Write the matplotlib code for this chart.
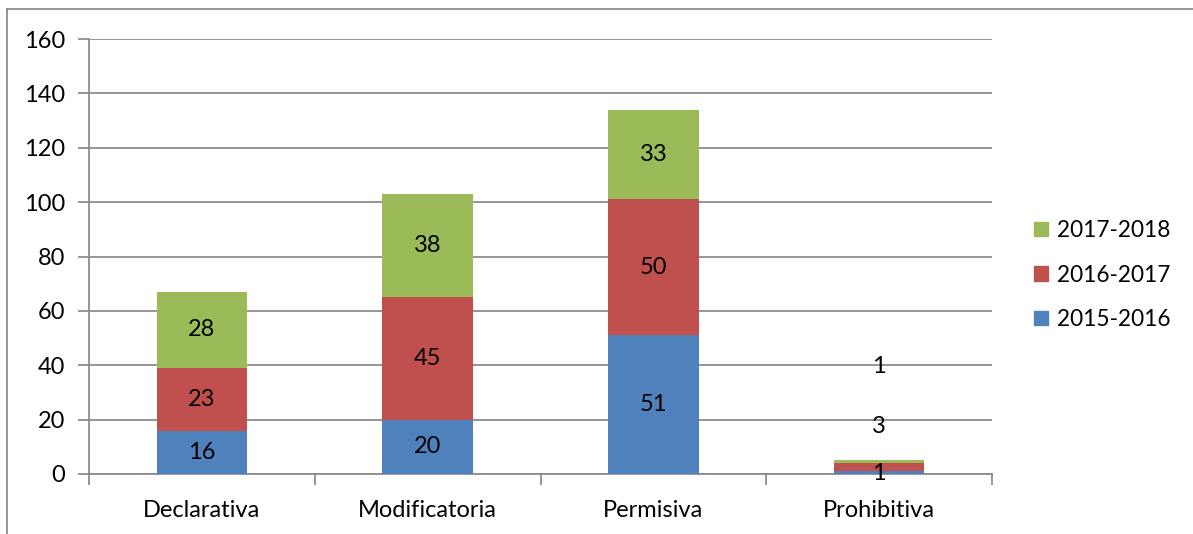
import numpy as np
import matplotlib.pyplot as plt
from matplotlib.patches import Patch

plt.rcParams['font.family'] = ['Lato', 'DejaVu Sans']

# Données
categorias = ['Declarativa', 'Modificatoria', 'Permisiva', 'Prohibitiva']
periodos = ['2015-2016', '2016-2017', '2017-2018']
v_2015 = [16, 20, 51, 1]
v_2016 = [23, 45, 50, 3]
v_2017 = [28, 38, 33, 1]
colores = ['#4F81BD', '#C0504D', '#9BBB59']

# Posiciones de las etiquetas de Prohibitiva (desplazadas a mano en el original)
etiq_prohib_y = [0.2, 17.3, 39.4]

fs = 17

fig = plt.figure(figsize=(11.93, 5.34), dpi=100)
ax = fig.add_axes([89/1193, 1-474/534, (992-89)/1193, (474-39)/534])

x = np.arange(len(categorias))
series = [v_2015, v_2016, v_2017]
base = np.zeros(len(categorias))
for i, s in enumerate(series):
    s = np.array(s, dtype=float)
    ax.bar(x, s, bottom=base, width=0.4, color=colores[i], zorder=3)
    for j in range(len(categorias)):
        if categorias[j] == 'Prohibitiva':
            yy = etiq_prohib_y[i]
        else:
            yy = base[j] + s[j]/2
        ax.text(x[j], yy, str(int(s[j])), ha='center', va='center',
                fontsize=fs, color='black', zorder=4)
    base = base + s

ax.set_xlim(-0.5, len(categorias)-0.5)
ax.set_ylim(0, 160)
ax.set_yticks(np.arange(0, 161, 20))
ax.set_xticks(x)
ax.set_xticklabels(categorias)
ax.set_xticks(np.arange(-0.5, len(categorias)), minor=True)
ax.grid(axis='y', color='#8c8c8c', linewidth=1.3, zorder=0)
for sp in ['top', 'right']:
    ax.spines[sp].set_visible(False)
for sp in ['left', 'bottom']:
    ax.spines[sp].set_color('#8c8c8c')
    ax.spines[sp].set_linewidth(1.3)
ax.tick_params(axis='y', length=8, width=1.3, color='#8c8c8c', labelsize=fs, pad=9)
ax.tick_params(axis='x', which='major', length=0, labelsize=fs, pad=19)
ax.tick_params(axis='x', which='minor', length=8, width=1.3, color='#8c8c8c')

handles = [Patch(color=colores[i], label=periodos[i]) for i in range(3)][::-1]
fig.legend(handles=handles, loc='center left', bbox_to_anchor=(1014/1193, 1-275/534),
           frameon=False, fontsize=16.3, handlelength=0.6, handleheight=0.6,
           handletextpad=0.4, labelspacing=1.05)

# Borde exterior del gráfico
fig.add_artist(plt.Line2D([7/1193, 7/1193], [0, 1-9/534], transform=fig.transFigure,
                          color='#8c8c8c', linewidth=1.3))
fig.add_artist(plt.Line2D([7/1193, 1], [1-9/534, 1-9/534], transform=fig.transFigure,
                          color='#8c8c8c', linewidth=1.3))

plt.savefig('out.png', dpi=100)
